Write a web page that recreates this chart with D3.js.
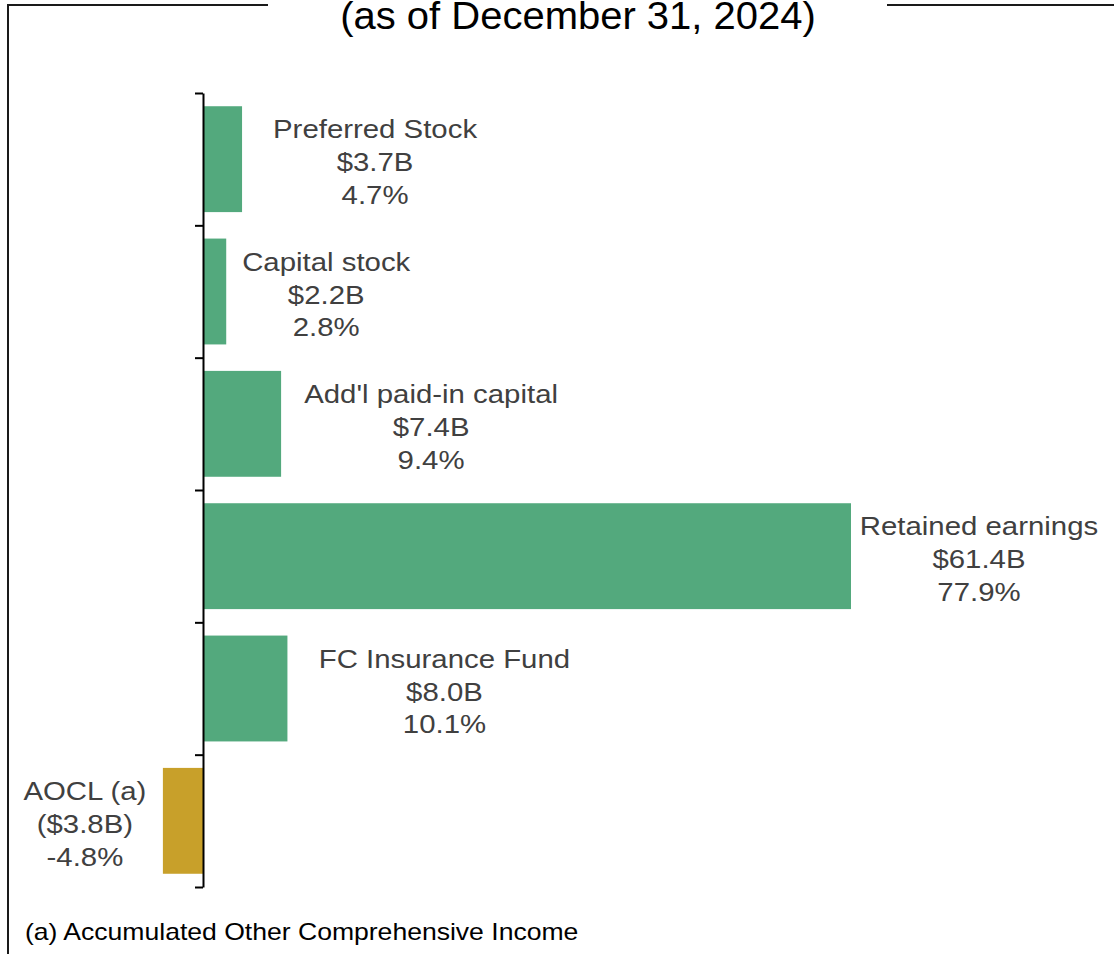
<!DOCTYPE html>
<html>
<head>
<meta charset="utf-8">
<script src="https://cdn.jsdelivr.net/npm/d3@7"></script>
<style>
    html, body { margin: 0; padding: 0; background: #fff; }
    svg { display: block; font-family: "Liberation Sans", Arial, sans-serif; }
</style>
</head>
<body>
<div id="chart"></div>
<script>
// equity components, billions
const categories = ["Preferred Stock", "Capital stock", "Add'l paid-in capital", "Retained earnings", "FC Insurance Fund", "AOCL (a)"]
const values = [3.7, 2.2, 7.4, 61.4, 8.0, -3.8]
const shares = [4.7, 2.8, 9.4, 77.9, 10.1, -4.8]
const title = "(as of December 31, 2024)"
const footnote = "(a) Accumulated Other Comprehensive Income"

const width = 1114
const height = 954
const positive = "#53a97d",
    negative = "#c8a02a",
    labelColor = "#404040"

// label centre offset from bar end (layout only)
const labelDx = [133, 100, 150, 128, 157, -78]
const stretch = 1.13

const svg = d3.select("#chart")
    .append("svg")
    .attr("width", width)
    .attr("height", height)

const x = d3.scaleLinear()
    .domain([0, d3.max(values)])
    .range([203, 851])

const y = d3.scaleBand()
    .domain(categories)
    .range([93, 887])
    .paddingInner(0.2)
    .paddingOuter(0.1)

// frame with a gap for the title
svg.append("path")
    .attr("d", `M268,5 H8 V${height + 5} M887,5 H${width + 5}`)
    .attr("fill", "none")
    .attr("stroke", "#1a1a1a")
    .attr("stroke-width", 2)

svg.append("text")
    .attr("transform", `translate(578,29) scale(1.053,1)`)
    .attr("text-anchor", "middle")
    .attr("font-size", 38)
    .attr("fill", "#000")
    .text(title)

svg.selectAll(".bar")
    .data(categories)
    .enter()
    .append("rect")
    .attr("class", "bar")
    .attr("x", (d, i) => Math.min(x(0), x(values[i])))
    .attr("y", d => y(d))
    .attr("width", (d, i) => Math.abs(x(values[i]) - x(0)))
    .attr("height", y.bandwidth())
    .attr("fill", (d, i) => values[i] < 0 ? negative : positive)

// category axis, ticks on band edges
const edge = d3.scaleLinear()
    .domain([0, categories.length])
    .range(y.range())

svg.append("g")
    .attr("transform", `translate(${x(0)},0)`)
    .call(d3.axisLeft(edge)
        .tickValues(d3.range(categories.length + 1))
        .tickSize(8)
        .tickSizeOuter(0)
        .tickFormat(""))
    .call(g => g.selectAll("path, line").attr("stroke", "#000").attr("stroke-width", 2))

const money = v => v < 0 ? `($${Math.abs(v).toFixed(1)}B)` : `$${v.toFixed(1)}B`

const labels = svg.selectAll(".label")
    .data(categories)
    .enter()
    .append("g")
    .attr("class", "label")
    .attr("transform", (d, i) => {
        let cx = x(values[i]) + labelDx[i]
        let cy = y(d) + y.bandwidth() / 2
        return `translate(${cx},${cy}) scale(${stretch},1)`
    })

labels.each(function (d, i) {
    let lines = [d, money(values[i]), `${shares[i].toFixed(1)}%`]
    d3.select(this).selectAll("text")
        .data(lines)
        .enter()
        .append("text")
        .attr("text-anchor", "middle")
        .attr("y", (t, j) => (j - 1) * 33 + 12)
        .attr("font-size", 26)
        .attr("fill", labelColor)
        .text(t => t)
})

svg.append("text")
    .attr("transform", `translate(25,940) scale(1.107,1)`)
    .attr("font-size", 24)
    .attr("fill", "#000")
    .text(footnote)
</script>
</body>
</html>
